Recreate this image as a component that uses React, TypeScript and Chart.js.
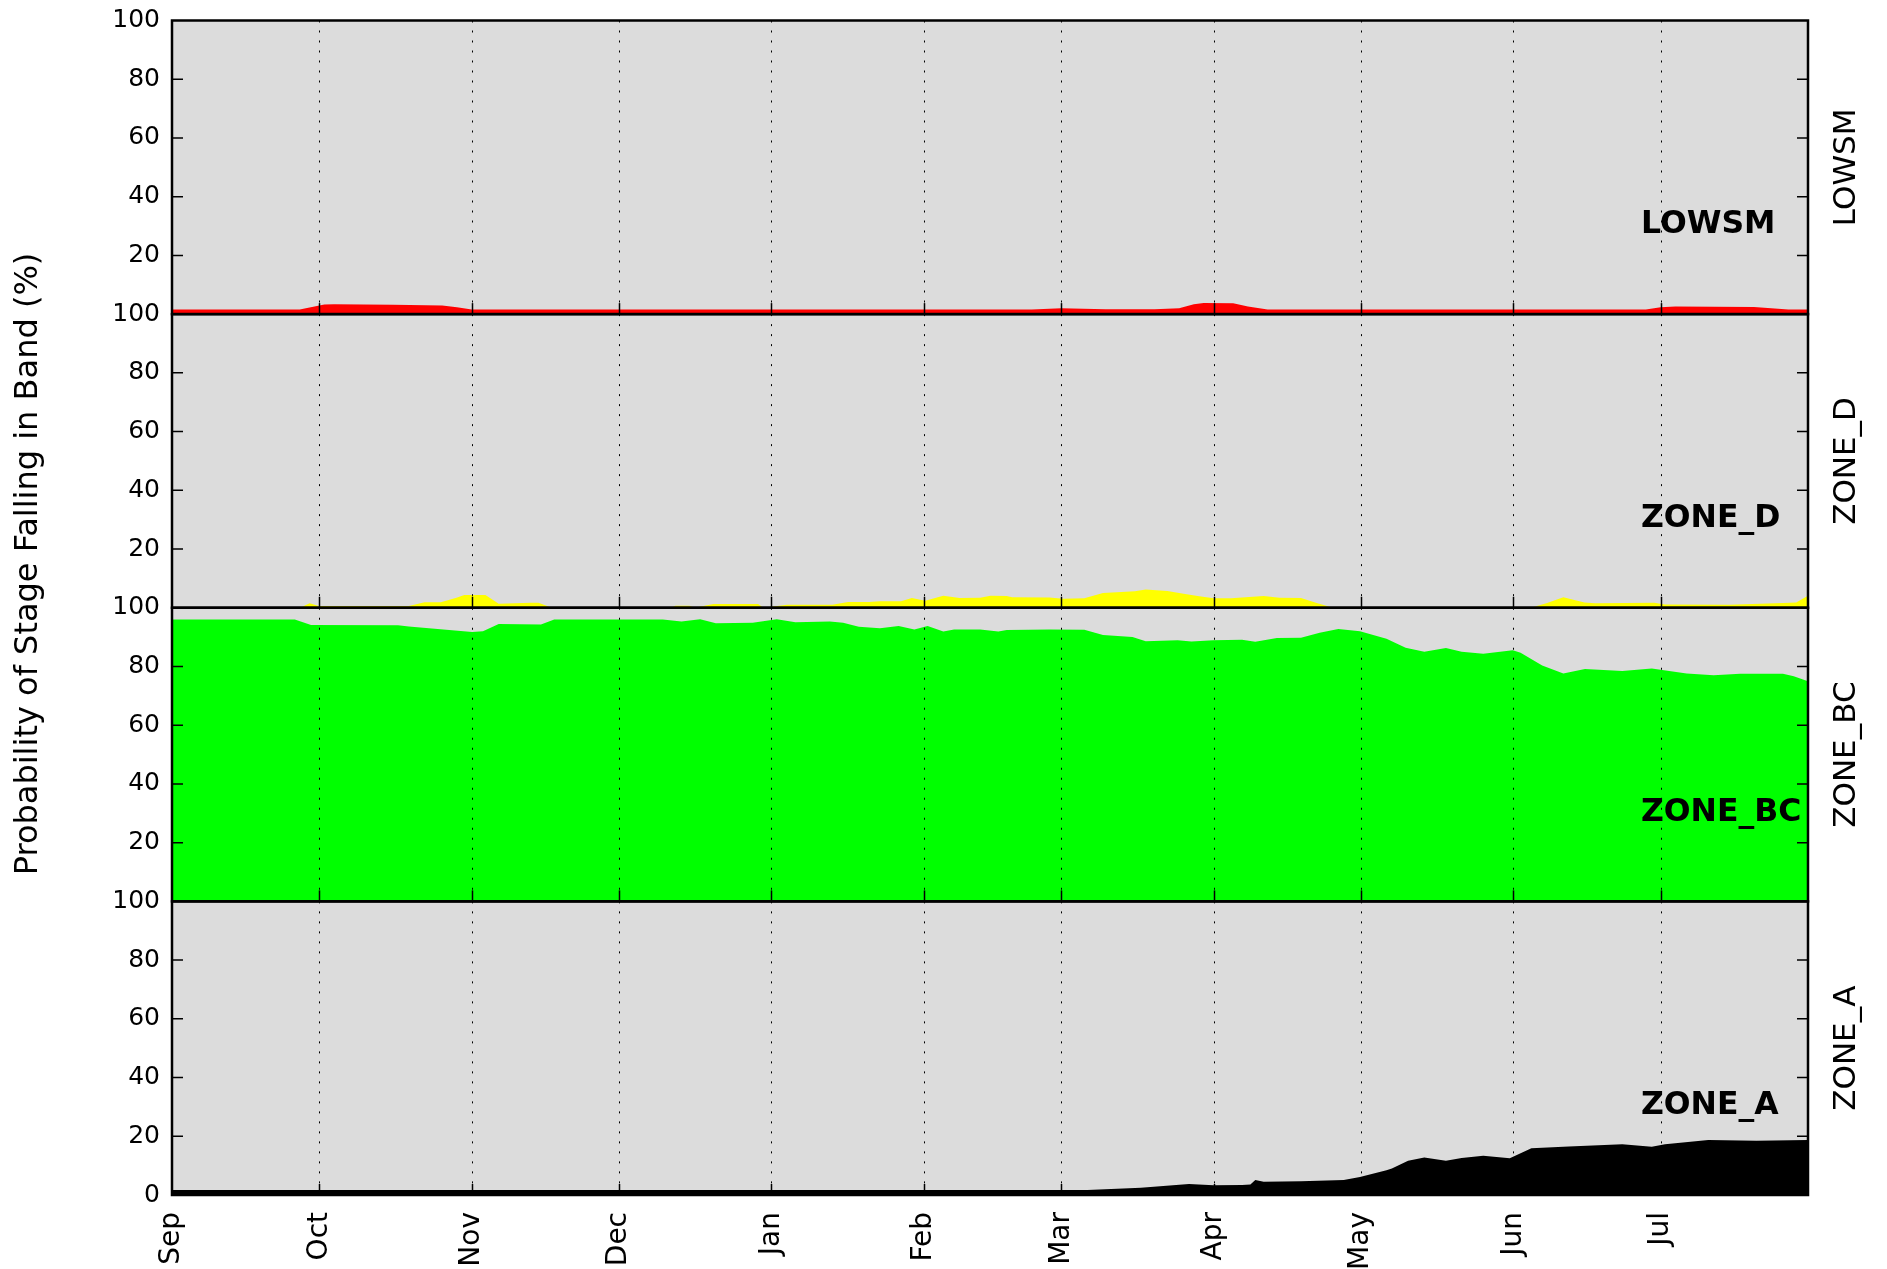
import React, { useEffect, useRef } from "react";
import { Chart, registerables } from "chart.js";

Chart.register(...registerables);

// ---------- data ----------
const monthLabels = ["Sep", "Oct", "Nov", "Dec", "Jan", "Feb", "Mar", "Apr", "May", "Jun", "Jul"];
const monthStartDays = [0, 30, 61, 91, 122, 153, 181, 212, 242, 273, 303];
const xMaxDay = 333;
const yTickValues = [0, 20, 40, 60, 80, 100];
const panelNames = ["LOWSM", "ZONE_D", "ZONE_BC", "ZONE_A"];
const panelColors = ["#ff0000", "#ffff00", "#00ff00", "#000000"];
const yTitle = "Probability of Stage Falling in Band (%)";

const lowsmDays = [0, 26, 29, 31, 33, 45, 55, 58, 61, 175, 181, 190, 200, 205, 208, 210, 216, 219, 223, 300, 303, 306, 322, 329, 333];
const lowsmValues = [1.6, 1.6, 2.6, 3.3, 3.4, 3.2, 2.9, 2.3, 1.6, 1.6, 2.0, 1.7, 1.7, 2.0, 3.4, 3.8, 3.7, 2.6, 1.6, 1.6, 2.3, 2.6, 2.4, 1.6, 1.6];

const zoneDDays = [0, 26.1, 28.0, 29.9, 33, 48.2, 51.4, 54.7, 57.9, 59.5, 63.8, 66.5, 73.0, 74.6, 77.3, 101.5, 102.5, 105.3, 106.4, 110.2, 119.3, 120.4, 125.2, 134.4, 137.6, 141.9, 144.1, 148.4, 150.6, 153.3, 157.0, 160.3, 164.5, 166.6, 169.9, 171, 178.6, 181.4, 185.7, 189.5, 196, 198.2, 202.6, 205.9, 209.1, 212, 215.6, 222.2, 225.4, 229.8, 233, 236.3, 276.6, 279.9, 283.2, 287.5, 289.7, 301.7, 303.9, 317, 327.9, 330.6, 333];
const zoneDValues = [0, 0, 1.5, 0.6, 0.6, 0.6, 1.9, 1.9, 3.4, 4.3, 4.3, 1.4, 1.7, 1.7, 0, 0, 0.7, 0.7, 0, 1.3, 1.3, 0, 1.0, 1.0, 2.0, 2.0, 2.2, 2.2, 3.3, 2.4, 4.1, 3.3, 3.4, 4.1, 4.0, 3.6, 3.5, 3.1, 3.2, 5.0, 5.6, 6.25, 5.7, 4.8, 3.9, 3.2, 3.2, 4.0, 3.4, 3.3, 1.6, 0, 0, 1.6, 3.6, 1.8, 1.5, 1.7, 1.1, 1.0, 1.6, 1.8, 4.1];

const zoneBCDays = [0, 25.0, 28.3, 46, 48.2, 61.1, 63.3, 66.5, 75.1, 77.8, 99.9, 103.7, 107.5, 110.7, 118.2, 123.1, 126.9, 133.9, 136.6, 139.8, 144.1, 147.9, 151.1, 153.8, 157.0, 159.2, 164.5, 168.2, 169.9, 178.6, 185.7, 189.5, 195.5, 198.2, 204.7, 207.5, 212, 217.8, 220.5, 224.9, 229.8, 233.6, 237.4, 241.8, 247.2, 251.1, 254.9, 259.3, 262.5, 266.9, 272.9, 274.5, 278.9, 283.2, 287.6, 295.2, 301.2, 308.3, 313.8, 319.2, 327.9, 330.1, 333];
const zoneBCValues = [96.0, 96.0, 94.1, 94.0, 93.6, 91.7, 92.0, 94.5, 94.3, 96.0, 96.0, 95.3, 96.1, 94.7, 94.9, 96.1, 95.1, 95.3, 94.9, 93.5, 93.0, 93.8, 92.6, 93.8, 91.9, 92.6, 92.6, 91.9, 92.4, 92.6, 92.5, 90.7, 90.0, 88.6, 88.9, 88.5, 88.9, 89.1, 88.4, 89.7, 89.8, 91.5, 92.8, 92.0, 89.4, 86.4, 85.0, 86.3, 85.0, 84.3, 85.5, 84.7, 80.3, 77.6, 79.1, 78.5, 79.3, 77.6, 77.0, 77.5, 77.5, 76.7, 75.0];

const zoneADays = [0, 186.3, 197.2, 207, 212, 217.8, 219.5, 220.5, 222.2, 229.8, 238.5, 241.8, 247.2, 248.3, 251.6, 254.9, 259.3, 262.5, 266.9, 272.3, 276.7, 284.3, 295.2, 301.2, 303.9, 312.7, 322.5, 333];
const zoneAValues = [1.7, 1.7, 2.5, 3.75, 3.3, 3.4, 3.6, 5.1, 4.5, 4.7, 5.1, 6.1, 8.4, 9.0, 11.7, 12.8, 11.7, 12.6, 13.4, 12.5, 15.9, 16.5, 17.3, 16.4, 17.3, 18.75, 18.5, 18.75];

const seriesDays = [lowsmDays, zoneDDays, zoneBCDays, zoneADays];
const seriesValues = [lowsmValues, zoneDValues, zoneBCValues, zoneAValues];

// label placement (data units)
const innerLabelDay = 299;
const innerLabelValue = 30.3;

const FONT = "'DejaVu Sans', 'Liberation Sans', sans-serif";
const panelIds = ["yLOWSM", "yZONE_D", "yZONE_BC", "yZONE_A"];

const decorPlugin = {
  id: "panelDecor",
  beforeDraw(chart: any) {
    const { ctx, chartArea: a } = chart;
    ctx.save();
    ctx.fillStyle = "#ffffff";
    ctx.fillRect(0, 0, chart.width, chart.height);
    ctx.fillStyle = "#dcdcdc";
    ctx.fillRect(a.left, a.top, a.right - a.left, a.bottom - a.top);
    ctx.restore();
  },
  afterDatasetsDraw(chart: any) {
    const { ctx, chartArea: a } = chart;
    const xs = chart.scales.x;
    ctx.save();
    panelIds.forEach((id, p) => {
      const ys = chart.scales[id];
      const top = ys.getPixelForValue(100);
      const bottom = ys.getPixelForValue(0);
      // dotted vertical grid
      ctx.strokeStyle = "#000";
      ctx.lineWidth = 1;
      ctx.setLineDash([2, 8]);
      monthStartDays.forEach((d) => {
        if (d <= 0) return;
        const x = Math.round(xs.getPixelForValue(d)) + 0.5;
        ctx.beginPath();
        ctx.moveTo(x, top);
        ctx.lineTo(x, bottom);
        ctx.stroke();
      });
      ctx.setLineDash([]);
      // inward x ticks at bottom of each panel
      ctx.lineWidth = 1.5;
      monthStartDays.forEach((d) => {
        if (d <= 0) return;
        const x = Math.round(xs.getPixelForValue(d)) + 0.5;
        ctx.beginPath();
        ctx.moveTo(x, bottom);
        ctx.lineTo(x, bottom - 11);
        ctx.stroke();
      });
      // inward y ticks on both sides
      yTickValues.forEach((v) => {
        if (v === 0 || v === 100) return;
        const y = ys.getPixelForValue(v);
        ctx.beginPath();
        ctx.moveTo(a.left, y);
        ctx.lineTo(a.left + 11, y);
        ctx.moveTo(a.right, y);
        ctx.lineTo(a.right - 11, y);
        ctx.stroke();
      });
      // frame
      ctx.lineWidth = 2.5;
      ctx.strokeRect(a.left, top, a.right - a.left, bottom - top);
      // inner bold label
      ctx.fillStyle = "#000";
      ctx.font = `bold 31.5px ${FONT}`;
      ctx.textAlign = "left";
      ctx.textBaseline = "middle";
      ctx.fillText(panelNames[p], xs.getPixelForValue(innerLabelDay), ys.getPixelForValue(innerLabelValue));
      // right rotated label
      ctx.save();
      ctx.translate(a.right + 39, (top + bottom) / 2);
      ctx.rotate(-Math.PI / 2);
      ctx.font = `31px ${FONT}`;
      ctx.textAlign = "center";
      ctx.textBaseline = "middle";
      ctx.fillText(panelNames[p], 0, 0);
      ctx.restore();
    });
    // overall y title
    ctx.save();
    ctx.translate(29, 564);
    ctx.rotate(-Math.PI / 2);
    ctx.font = `32px ${FONT}`;
    ctx.textAlign = "center";
    ctx.textBaseline = "middle";
    ctx.fillStyle = "#000";
    ctx.fillText(yTitle, 0, 0);
    ctx.restore();
    ctx.restore();
  },
};

export default function App() {
  const canvasRef = useRef<HTMLCanvasElement | null>(null);

  useEffect(() => {
    const canvas = canvasRef.current;
    if (!canvas) return;

    const datasets = panelNames.map((name, p) => ({
      label: name,
      data: seriesDays[p].map((d, i) => ({ x: d, y: seriesValues[p][i] })),
      yAxisID: panelIds[p],
      xAxisID: "x",
      fill: "origin",
      backgroundColor: panelColors[p],
      borderColor: panelColors[p],
      borderWidth: 0,
      pointRadius: 0,
      tension: 0,
    }));

    const scales: any = {
      x: {
        type: "linear",
        position: "bottom",
        min: 0,
        max: xMaxDay,
        afterBuildTicks: (s: any) => {
          s.ticks = monthStartDays.map((v) => ({ value: v }));
        },
        afterFit: (s: any) => {
          s.height = 74;
          s.paddingLeft = 0;
          s.paddingRight = 0;
        },
        ticks: {
          autoSkip: false,
          minRotation: 90,
          maxRotation: 90,
          padding: 17,
          color: "#000",
          font: { family: FONT, size: 28 },
          callback: (_v: any, i: number) => monthLabels[i] ?? "",
        },
        grid: { display: false, drawTicks: false },
        border: { display: false },
      },
    };
    panelIds.forEach((id, p) => {
      scales[id] = {
        type: "linear",
        position: "left",
        stack: "panels",
        stackWeight: 1,
        weight: 4 - p,
        min: 0,
        max: 100,
        afterBuildTicks: (s: any) => {
          s.ticks = yTickValues.map((v) => ({ value: v }));
        },
        afterFit: (s: any) => {
          s.width = 172;
          s.paddingTop = 0;
          s.paddingBottom = 0;
        },
        ticks: {
          autoSkip: false,
          padding: 12,
          color: "#000",
          font: { family: FONT, size: 25 },
          callback: (v: any) => (v === 0 && p !== 3 ? "" : String(v)),
        },
        grid: { display: false, drawTicks: false },
        border: { display: false },
      };
    });

    const chart = new Chart(canvas, {
      type: "line",
      data: { datasets } as any,
      options: {
        animation: false,
        responsive: false,
        devicePixelRatio: 1,
        layout: { padding: { top: 20.5, right: 79, bottom: 0, left: 0 } },
        plugins: { legend: { display: false }, tooltip: { enabled: false } },
        scales,
      } as any,
      plugins: [decorPlugin],
    });
    return () => chart.destroy();
  }, []);

  return (
    <div style={{ position: "fixed", left: 0, top: 0, width: 1887, height: 1269, background: "#fff" }}>
      <canvas ref={canvasRef} width={1887} height={1269} style={{ width: 1887, height: 1269, display: "block" }} />
    </div>
  );
}
